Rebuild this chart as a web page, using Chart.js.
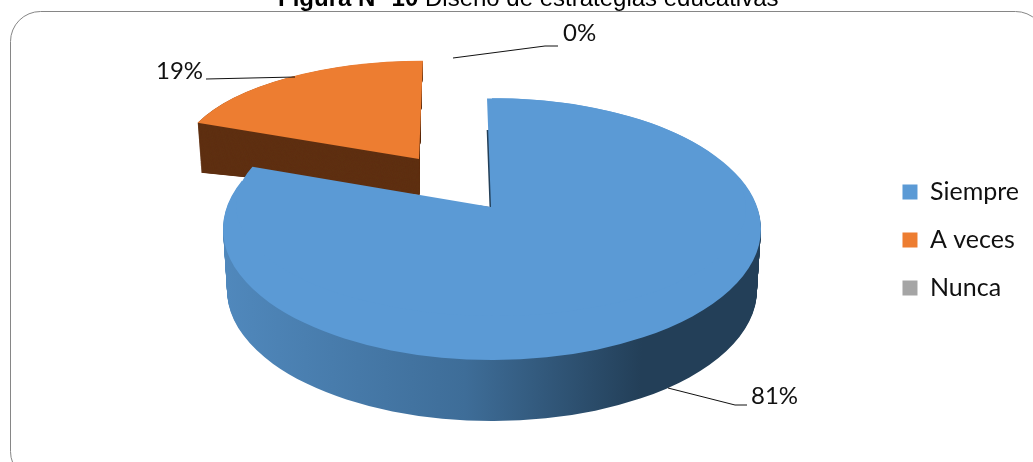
<!DOCTYPE html>
<html>
<head>
<meta charset="utf-8">
<script src="https://cdn.jsdelivr.net/npm/chart.js@4"></script>
<style>
  html, body { margin: 0; padding: 0; background: #fff; overflow: hidden; }
  canvas { display: block; }
</style>
</head>
<body>
<canvas id="myChart" width="1033" height="462"></canvas>
<script>
const categories = ['Siempre', 'A veces', 'Nunca'];
const values = [81, 19, 0];
const sliceColors = ['#5B9AD5', '#ED7D31', '#A5A5A5'];
const titleBold = 'Figura N° 10 ';
const titleRest = 'Diseño de estrategias educativas';

const labelFont = '24px Lato';

// where each value label and its leader line go
const leaders = [
  { text: 0, x: 751, y: 396, line: [[668, 388], [735, 405], [747, 405]] },
  { text: 1, x: 156, y: 71, line: [[295, 77], [206, 79]] },
  { text: 2, x: 563, y: 33, line: [[453, 58], [545, 46], [558, 46]] }
];

// the pie is flattened with a canvas transform, there is a view for each face
const blueTop = { x: 492, y: 229, rx: 269, ry: 131, lean: 0 };
const blueBottom = { x: 492, y: 290, rx: 265, ry: 131, lean: 0 };
const blueNotch = { x: 491, y: 207, rx: 255, ry: 109, lean: -4 };
const orangeTop = { x: 419, y: 159, rx: 239, ry: 98, lean: 4 };
const orangeBottom = { x: 419.5, y: 195, rx: 234, ry: 60, lean: 0 };

function mix(a, b, t) {
  const out = {};
  for (const k in a) out[k] = a[k] + (b[k] - a[k]) * t;
  return out;
}

function drawFace(ctx, el, view, color) {
  const r = el.outerRadius;
  const mid = (el.startAngle + el.endAngle) / 2;
  // ArcElement only moves by a quarter of its offset
  const off = (el.options.offset || 0) / 4;
  ctx.save();
  ctx.translate(view.x, view.y);
  ctx.transform(view.rx / r, 0, -view.lean / r, view.ry / r, 0, 0);
  ctx.translate(-el.x - Math.cos(mid) * off, -el.y - Math.sin(mid) * off);
  const saved = el.options;
  el.options = Object.assign({}, saved, { backgroundColor: color || saved.backgroundColor });
  el.draw(ctx);
  el.options = saved;
  ctx.restore();
}

const pie3d = {
  id: 'pie3d',
  beforeDraw(chart) {
    const ctx = chart.ctx;
    ctx.save();
    ctx.fillStyle = '#fff';
    ctx.fillRect(0, 0, chart.width, chart.height);
    ctx.strokeStyle = '#868686';
    ctx.lineWidth = 1;
    ctx.beginPath();
    ctx.roundRect(10.5, 11.5, 1035, 470, 30);
    ctx.stroke();
    ctx.restore();
  },
  beforeDatasetDraw(chart) {
    const ctx = chart.ctx;
    const arcs = chart.getDatasetMeta(0).data;
    const blue = arcs[0], orange = arcs[1];

    // orange slice, pulled out and behind the blue one
    for (let i = 150; i > 0; i--) {
      drawFace(ctx, orange, mix(orangeTop, orangeBottom, i / 150), '#5F3012');
    }
    drawFace(ctx, orange, orangeTop);

    // blue wall, the gradient lives in the coordinates of the arc
    const r = blue.outerRadius;
    const grad = ctx.createLinearGradient(blue.x - r, 0, blue.x + r, 0);
    grad.addColorStop(0, '#5088BC');
    grad.addColorStop(0.45, '#3E6D98');
    grad.addColorStop(0.78, '#233F58');
    grad.addColorStop(1, '#233F58');
    for (let i = 61; i > 0; i--) {
      drawFace(ctx, blue, mix(blueTop, blueBottom, i / 61), grad);
    }

    // thin dark edge seen on the cut of the blue slice
    ctx.save();
    ctx.beginPath();
    ctx.rect(480, 130, 20, 80);
    ctx.clip();
    drawFace(ctx, blue, Object.assign({}, blueNotch, { x: blueNotch.x - 1.5 }), '#233F58');
    ctx.restore();

    drawFace(ctx, blue, blueTop);
    drawFace(ctx, blue, blueNotch);
    return false;
  },
  afterDraw(chart) {
    const ctx = chart.ctx;
    const total = values.reduce((a, b) => a + b, 0);
    ctx.save();
    ctx.strokeStyle = '#111';
    ctx.lineWidth = 1;
    ctx.fillStyle = '#111';
    ctx.textBaseline = 'middle';
    ctx.textAlign = 'left';
    ctx.font = labelFont;
    leaders.forEach(l => {
      ctx.beginPath();
      l.line.forEach((p, i) => i ? ctx.lineTo(p[0], p[1]) : ctx.moveTo(p[0], p[1]));
      ctx.stroke();
      ctx.fillText(Math.round(values[l.text] / total * 100) + '%', l.x, l.y);
    });

    // the title is cut by the top of the picture
    ctx.textBaseline = 'alphabetic';
    ctx.fillStyle = '#000';
    ctx.font = 'bold 24px "Liberation Sans"';
    ctx.fillText(titleBold, 278, 6);
    const w = ctx.measureText(titleBold).width;
    ctx.font = '24px "Liberation Sans"';
    ctx.fillText(titleRest, 278 + w, 6);
    ctx.restore();
  }
};

new Chart(document.getElementById('myChart').getContext('2d'), {
  type: 'pie',
  plugins: [pie3d],
  data: {
    labels: categories,
    datasets: [{
      data: values,
      backgroundColor: sliceColors,
      borderWidth: 0,
      offset: [0, 40, 0]
    }]
  },
  options: {
    responsive: false,
    animation: false,
    events: [],
    layout: { padding: { top: 18, right: 4 } },
    plugins: {
      title: { display: false },
      tooltip: { enabled: false },
      legend: {
        position: 'right',
        labels: {
          boxWidth: 15,
          boxHeight: 15,
          padding: 23,
          color: '#111',
          font: { family: 'Lato', size: 25 }
        }
      }
    }
  }
});
</script>
</body>
</html>
